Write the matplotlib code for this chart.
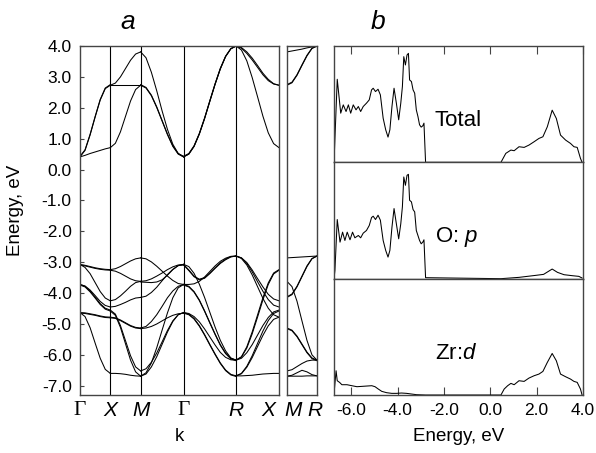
import numpy as np
import matplotlib
matplotlib.use("Agg")
import matplotlib.pyplot as plt
from matplotlib.transforms import blended_transform_factory

plt.rcParams['font.family'] = ['Liberation Sans', 'DejaVu Sans']
plt.rcParams['axes.unicode_minus'] = False
plt.rcParams['mathtext.fontset'] = 'custom'
plt.rcParams['mathtext.rm'] = 'Liberation Sans'
plt.rcParams['mathtext.it'] = 'Liberation Sans:italic'

# ---------------- band structure data (energies in eV) ----------------
path_labels = ["Γ", "X", "M", "Γ", "R", "X"]
path_lengths = [0.5, 0.5, 0.7071, 0.8660, 0.7071]   # in units of 2*pi/a
inset_labels = ["M", "R"]
inset_length = 0.5

bands_GX = [
    [0.41, 0.46, 0.52, 0.57, 0.62, 0.67, 0.71],
    [0.41, 0.62, 1.12, 1.70, 2.25, 2.62, 2.73],
    [0.43, 0.64, 1.14, 1.72, 2.27, 2.64, 2.75],
    [-3.07, -3.10, -3.14, -3.18, -3.21, -3.23, -3.24],
    [-3.09, -3.12, -3.16, -3.20, -3.23, -3.25, -3.26],
    [-3.07, -3.17, -3.37, -3.66, -3.95, -4.16, -4.25],
    [-3.72, -3.77, -3.90, -4.08, -4.27, -4.40, -4.45],
    [-3.72, -3.78, -3.93, -4.13, -4.34, -4.49, -4.55],
    [-3.74, -3.80, -3.96, -4.16, -4.37, -4.52, -4.58],
    [-4.63, -4.64, -4.67, -4.70, -4.74, -4.77, -4.78],
    [-4.65, -4.66, -4.69, -4.72, -4.76, -4.79, -4.80],
    [-4.63, -4.76, -5.12, -5.62, -6.11, -6.47, -6.60],
]

bands_XM = [
    [0.71, 0.85, 1.22, 1.72, 2.22, 2.59, 2.73],
    [2.74, 2.74, 2.74, 2.74, 2.74, 2.74, 2.74],
    [2.73, 2.80, 3.00, 3.27, 3.54, 3.74, 3.81],
    [-3.24, -3.21, -3.14, -3.05, -2.96, -2.89, -2.86],
    [-3.26, -3.29, -3.36, -3.45, -3.54, -3.60, -3.62],
    [-4.25, -4.21, -4.09, -3.94, -3.78, -3.66, -3.62],
    [-4.45, -4.43, -4.37, -4.30, -4.22, -4.16, -4.14],
    [-4.78, -4.80, -4.87, -4.96, -5.05, -5.11, -5.13],
    [-4.80, -4.82, -4.89, -4.98, -5.07, -5.13, -5.15],
    [-4.55, -4.68, -5.05, -5.54, -6.03, -6.39, -6.52],
    [-4.58, -4.72, -5.11, -5.64, -6.17, -6.55, -6.69],
    [-6.60, -6.60, -6.61, -6.63, -6.66, -6.68, -6.69],
]

bands_MG = [
    [2.73, 2.64, 2.39, 2.01, 1.57, 1.13, 0.75, 0.50, 0.41],
    [2.75, 2.66, 2.41, 2.03, 1.59, 1.15, 0.77, 0.52, 0.43],
    [3.81, 3.62, 3.15, 2.55, 1.90, 1.30, 0.82, 0.52, 0.41],
    [-2.86, -2.89, -2.99, -3.13, -3.29, -3.45, -3.59, -3.69, -3.72],
    [-3.62, -3.60, -3.54, -3.45, -3.35, -3.24, -3.15, -3.09, -3.07],
    [-3.64, -3.65, -3.66, -3.64, -3.57, -3.42, -3.24, -3.11, -3.09],
    [-4.14, -4.10, -3.98, -3.81, -3.60, -3.40, -3.23, -3.11, -3.07],
    [-5.13, -5.08, -4.92, -4.70, -4.43, -4.15, -3.93, -3.78, -3.72],
    [-5.15, -5.13, -5.08, -5.00, -4.90, -4.80, -4.72, -4.67, -4.65],
    [-6.52, -6.45, -6.24, -5.94, -5.58, -5.21, -4.90, -4.70, -4.63],
    [-6.69, -6.62, -6.39, -6.06, -5.66, -5.26, -4.92, -4.70, -4.63],
    [-6.69, -6.58, -6.26, -5.77, -5.20, -4.64, -4.15, -3.83, -3.72],
]

bands_GR = [
    [0.41, 0.50, 0.75, 1.15, 1.65, 2.21, 2.76, 3.26, 3.66, 3.91, 4.00],
    [0.43, 0.52, 0.77, 1.17, 1.67, 2.23, 2.78, 3.28, 3.67, 3.92, 4.00],
    [0.41, 0.50, 0.75, 1.15, 1.65, 2.21, 2.76, 3.26, 3.66, 3.91, 4.00],
    [-3.07, -3.25, -3.45, -3.55, -3.50, -3.35, -3.18, -3.02, -2.90, -2.82, -2.80],
    [-3.09, -3.27, -3.47, -3.57, -3.52, -3.37, -3.20, -3.04, -2.92, -2.83, -2.80],
    [-3.72, -3.72, -3.70, -3.62, -3.48, -3.30, -3.12, -2.97, -2.87, -2.81, -2.80],
    [-3.07, -3.14, -3.36, -3.71, -4.14, -4.62, -5.10, -5.53, -5.87, -6.10, -6.17],
    [-3.72, -3.78, -3.95, -4.22, -4.57, -4.95, -5.32, -5.67, -5.94, -6.11, -6.17],
    [-3.74, -3.80, -3.97, -4.24, -4.59, -4.97, -5.34, -5.69, -5.96, -6.13, -6.19],
    [-4.63, -4.68, -4.82, -5.05, -5.34, -5.66, -5.97, -6.26, -6.49, -6.63, -6.68],
    [-4.65, -4.70, -4.84, -5.07, -5.36, -5.68, -5.99, -6.28, -6.51, -6.65, -6.70],
    [-4.63, -4.66, -4.76, -4.93, -5.16, -5.42, -5.68, -5.92, -6.08, -6.16, -6.17],
]

bands_RX = [
    [4.00, 3.95, 3.81, 3.61, 3.37, 3.12, 2.92, 2.78, 2.73],
    [4.00, 3.93, 3.76, 3.55, 3.31, 3.07, 2.88, 2.77, 2.73],
    [4.00, 3.87, 3.52, 2.98, 2.36, 1.73, 1.19, 0.84, 0.71],
    [-2.80, -2.86, -3.01, -3.25, -3.53, -3.80, -4.04, -4.19, -4.25],
    [-2.80, -2.86, -3.04, -3.31, -3.63, -3.94, -4.21, -4.39, -4.45],
    [-2.80, -2.88, -3.09, -3.41, -3.79, -4.17, -4.49, -4.70, -4.78],
    [-6.17, -6.06, -5.74, -5.26, -4.71, -4.15, -3.67, -3.35, -3.24],
    [-6.17, -6.07, -5.78, -5.32, -4.78, -4.22, -3.72, -3.38, -3.26],
    [-6.17, -6.11, -5.93, -5.67, -5.36, -5.05, -4.79, -4.61, -4.55],
    [-6.68, -6.60, -6.37, -6.03, -5.63, -5.23, -4.89, -4.66, -4.58],
    [-6.68, -6.61, -6.40, -6.09, -5.73, -5.37, -5.06, -4.85, -4.78],
    [-6.68, -6.68, -6.67, -6.66, -6.64, -6.62, -6.61, -6.60, -6.60],
]

bands_MR = [
    [2.73, 2.81, 3.05, 3.37, 3.68, 3.92, 4.00],
    [2.75, 2.83, 3.07, 3.39, 3.70, 3.93, 4.00],
    [3.81, 3.84, 3.87, 3.90, 3.94, 3.97, 4.00],
    [-2.86, -2.85, -2.84, -2.83, -2.82, -2.81, -2.80],
    [-4.14, -4.05, -3.80, -3.47, -3.14, -2.89, -2.80],
    [-4.12, -4.03, -3.78, -3.45, -3.12, -2.88, -2.80],
    [-3.62, -3.79, -4.26, -4.90, -5.53, -6.00, -6.17],
    [-5.13, -5.20, -5.39, -5.65, -5.91, -6.10, -6.17],
    [-5.15, -5.22, -5.41, -5.67, -5.93, -6.12, -6.19],
    [-6.52, -6.48, -6.38, -6.28, -6.20, -6.17, -6.17],
    [-6.69, -6.69, -6.69, -6.69, -6.68, -6.68, -6.68],
    [-6.69, -6.66, -6.58, -6.50, -6.55, -6.64, -6.68],
]

# ---------------- density of states (arb. units) ----------------
dos_total_E = [-6.74, -6.72, -6.60, -6.45, -6.34, -6.22, -6.12, -6.02, -5.91, -5.79,
               -5.69, -5.59, -5.48, -5.34, -5.22, -5.12, -5.05, -4.95, -4.84, -4.74,
               -4.62, -4.51, -4.41, -4.33, -4.24, -4.15, -4.05, -3.95, -3.86, -3.79,
               -3.73, -3.66, -3.59, -3.53, -3.48, -3.40, -3.33, -3.26, -3.19, -3.12,
               -3.05, -2.98, -2.91, -2.86, -2.79, 0.46, 0.67, 0.89, 1.03, 1.24,
               1.46, 1.67, 1.89, 2.10, 2.27, 2.46, 2.67, 2.85, 3.03, 3.25,
               3.46, 3.61, 3.75, 3.89, 3.96]
dos_total = [0.0, 3.5, 25.0, 14.8, 17.3, 15.3, 17.3, 14.8, 17.3, 15.8,
             16.8, 15.3, 16.8, 17.8, 18.8, 21.8, 22.3, 21.3, 22.0, 20.3,
             13.3, 9.8, 7.6, 9.8, 16.8, 22.3, 17.8, 12.8, 17.8, 22.8,
             31.8, 29.3, 32.3, 32.8, 24.8, 24.3, 21.8, 20.8, 15.8, 13.8,
             11.3, 10.6, 11.0, 11.8, 0.0, 0.0, 2.7, 3.7, 3.5, 4.7,
             4.5, 5.2, 6.2, 7.2, 7.7, 10.7, 15.7, 13.2, 8.2, 6.7,
             5.7, 4.7, 4.5, 1.2, 0.0]

dos_op_E = [-6.74, -6.70, -6.60, -6.48, -6.37, -6.27, -6.17, -6.05, -5.94, -5.84,
            -5.69, -5.59, -5.48, -5.34, -5.22, -5.12, -5.05, -4.95, -4.84, -4.74,
            -4.62, -4.51, -4.41, -4.33, -4.24, -4.15, -4.05, -3.95, -3.86, -3.79,
            -3.73, -3.66, -3.59, -3.53, -3.48, -3.40, -3.33, -3.26, -3.19, -3.12,
            -3.05, -2.98, -2.91, -2.86, -2.79, 0.46, 1.24, 1.96, 2.30, 2.67,
            2.90, 3.18, 3.54, 3.82, 3.96]
dos_op = [0.0, 2.5, 17.8, 11.0, 14.0, 11.5, 14.0, 11.7, 14.0, 12.3,
          13.0, 12.3, 13.7, 14.5, 16.0, 18.4, 18.8, 17.8, 19.1, 17.6,
          11.5, 8.5, 6.5, 8.5, 15.5, 21.1, 16.5, 12.0, 16.5, 21.6,
          30.6, 28.1, 31.1, 31.4, 23.6, 23.1, 20.8, 20.1, 14.5, 13.0,
          11.5, 10.5, 11.0, 11.7, 0.3, 0.0, 0.4, 1.0, 1.3, 2.9,
          1.9, 1.2, 0.9, 0.7, 0.2]

dos_zrd_E = [-6.74, -6.65, -6.60, -6.50, -6.40, -6.18, -5.97, -5.75, -5.54, -5.33,
             -5.11, -4.97, -4.83, -4.68, -4.47, -4.25, -4.04, -3.83, -3.61, -3.40,
             -3.18, -2.79, 0.46, 0.60, 0.75, 0.89, 1.03, 1.24, 1.46, 1.67,
             1.89, 2.10, 2.27, 2.46, 2.67, 2.85, 3.03, 3.25, 3.46, 3.61,
             3.75, 3.89, 3.96]
dos_zrd = [0.3, 7.3, 4.3, 3.8, 3.1, 3.1, 2.8, 2.5, 2.6, 2.7,
           2.8, 2.5, 1.8, 1.1, 0.7, 0.5, 0.5, 0.6, 0.5, 0.3,
           0.1, 0.0, 0.0, 1.8, 2.8, 3.5, 3.1, 4.3, 4.1, 5.1,
           5.8, 6.3, 7.1, 9.8, 12.5, 10.3, 6.3, 5.5, 4.8, 4.1,
           3.8, 1.8, 0.0]

dos_titles = ["Total", "O: $p$", "Zr:$d$"]
energy_ticks = [-6.0, -4.0, -2.0, 0.0, 2.0, 4.0]

# ---------------- figure ----------------
frame_color = "#444444"
tick_fs = 12.5
label_fs = 13.5
fig = plt.figure(figsize=(5.96, 4.53), dpi=100)

# panel a: band structure along the main path
ax = fig.add_axes([0.1342, 0.1280, 0.3339, 0.7704])
axi = fig.add_axes([0.4815, 0.1280, 0.0503, 0.7704])

knodes = np.concatenate([[0.0], np.cumsum(path_lengths)])
segments = [bands_GX, bands_XM, bands_MG, bands_GR, bands_RX]
for i, seg in enumerate(segments):
    for band in seg:
        k = np.linspace(knodes[i], knodes[i + 1], len(band))
        ax.plot(k, band, color="black", lw=0.75)
for kn in knodes[1:-1]:
    ax.axvline(kn, color="black", lw=0.8)

ax.set_xlim(knodes[0], knodes[-1])
ax.set_ylim(-7.30, 4.0)
yt = np.arange(-7.0, 4.01, 1.0)
ax.set_yticks(yt)
ax.set_yticklabels([f"{v:.1f}" for v in yt], fontsize=tick_fs)
ax.tick_params(axis="y", direction="in", length=3, width=0.8, color=frame_color, pad=6)
ax.set_xticks([])
ax.set_ylabel("Energy, eV", fontsize=label_fs)
ax.yaxis.set_label_coords(-0.28, 0.53)
ax.set_xlabel("k", fontsize=label_fs, labelpad=24)

for a in (ax, axi):
    for s in a.spines.values():
        s.set_color(frame_color)
        s.set_linewidth(1.0)

trans = blended_transform_factory(ax.transData, ax.transAxes)
label_pos = list(knodes)
label_pos[-1] = knodes[-1] - 0.18
for lab, kp in zip(path_labels, label_pos):
    if lab == "Γ":
        ax.text(kp, -0.045, lab, transform=trans, ha="center", va="center",
                fontsize=15.5, family=["Liberation Serif", "DejaVu Serif"])
    else:
        ax.text(kp, -0.045, lab, transform=trans, ha="center", va="center",
                fontsize=15, style="italic")

# inset: M-R branch
for band in bands_MR:
    k = np.linspace(0.0, inset_length, len(band))
    axi.plot(k, band, color="black", lw=0.75)
axi.set_xlim(0.0, inset_length)
axi.set_ylim(-7.30, 4.0)
axi.set_xticks([])
axi.set_yticks([])
transi = blended_transform_factory(axi.transData, axi.transAxes)
for lab, kp in zip(inset_labels, [0.10, 0.47]):
    axi.text(kp, -0.045, lab, transform=transi, ha="center", va="center",
             fontsize=15, style="italic")

# panel b: density of states
dos_E = [dos_total_E, dos_op_E, dos_zrd_E]
dos_V = [dos_total, dos_op, dos_zrd]
h = 0.7704 / 3.0
dos_axes = []
for j in range(3):
    bottom = 0.1280 + (2 - j) * h
    axd = fig.add_axes([0.5604, bottom, 0.4178, h])
    axd.plot(dos_E[j], dos_V[j], color="black", lw=0.75)
    axd.set_xlim(-6.74, 4.0)
    axd.set_ylim(0, 35)
    axd.set_yticks([])
    for s in axd.spines.values():
        s.set_color(frame_color)
        s.set_linewidth(1.0)
    axd.text(0.405, 0.36, dos_titles[j], transform=axd.transAxes,
             fontsize=16, ha="left", va="center")
    dos_axes.append(axd)

top_ax, mid_ax, bot_ax = dos_axes
top_ax.set_xticks(energy_ticks)
top_ax.tick_params(axis="x", direction="in", length=6, width=0.8, color=frame_color,
                   top=True, bottom=False, labeltop=False, labelbottom=False)
mid_ax.set_xticks([])
bot_ax.set_xticks(energy_ticks)
bot_ax.set_xticklabels([f"{v:.1f}" for v in energy_ticks], fontsize=tick_fs)
bot_ax.tick_params(axis="x", direction="in", length=6, width=0.8, color=frame_color, pad=6)
bot_ax.set_xlabel("Energy, eV", fontsize=label_fs, labelpad=7)

fig.text(0.215, 0.951, "a", fontsize=19, style="italic", ha="center", va="center")
fig.text(0.634, 0.951, "b", fontsize=19, style="italic", ha="center", va="center")

fig.savefig("out.png", dpi=100)
